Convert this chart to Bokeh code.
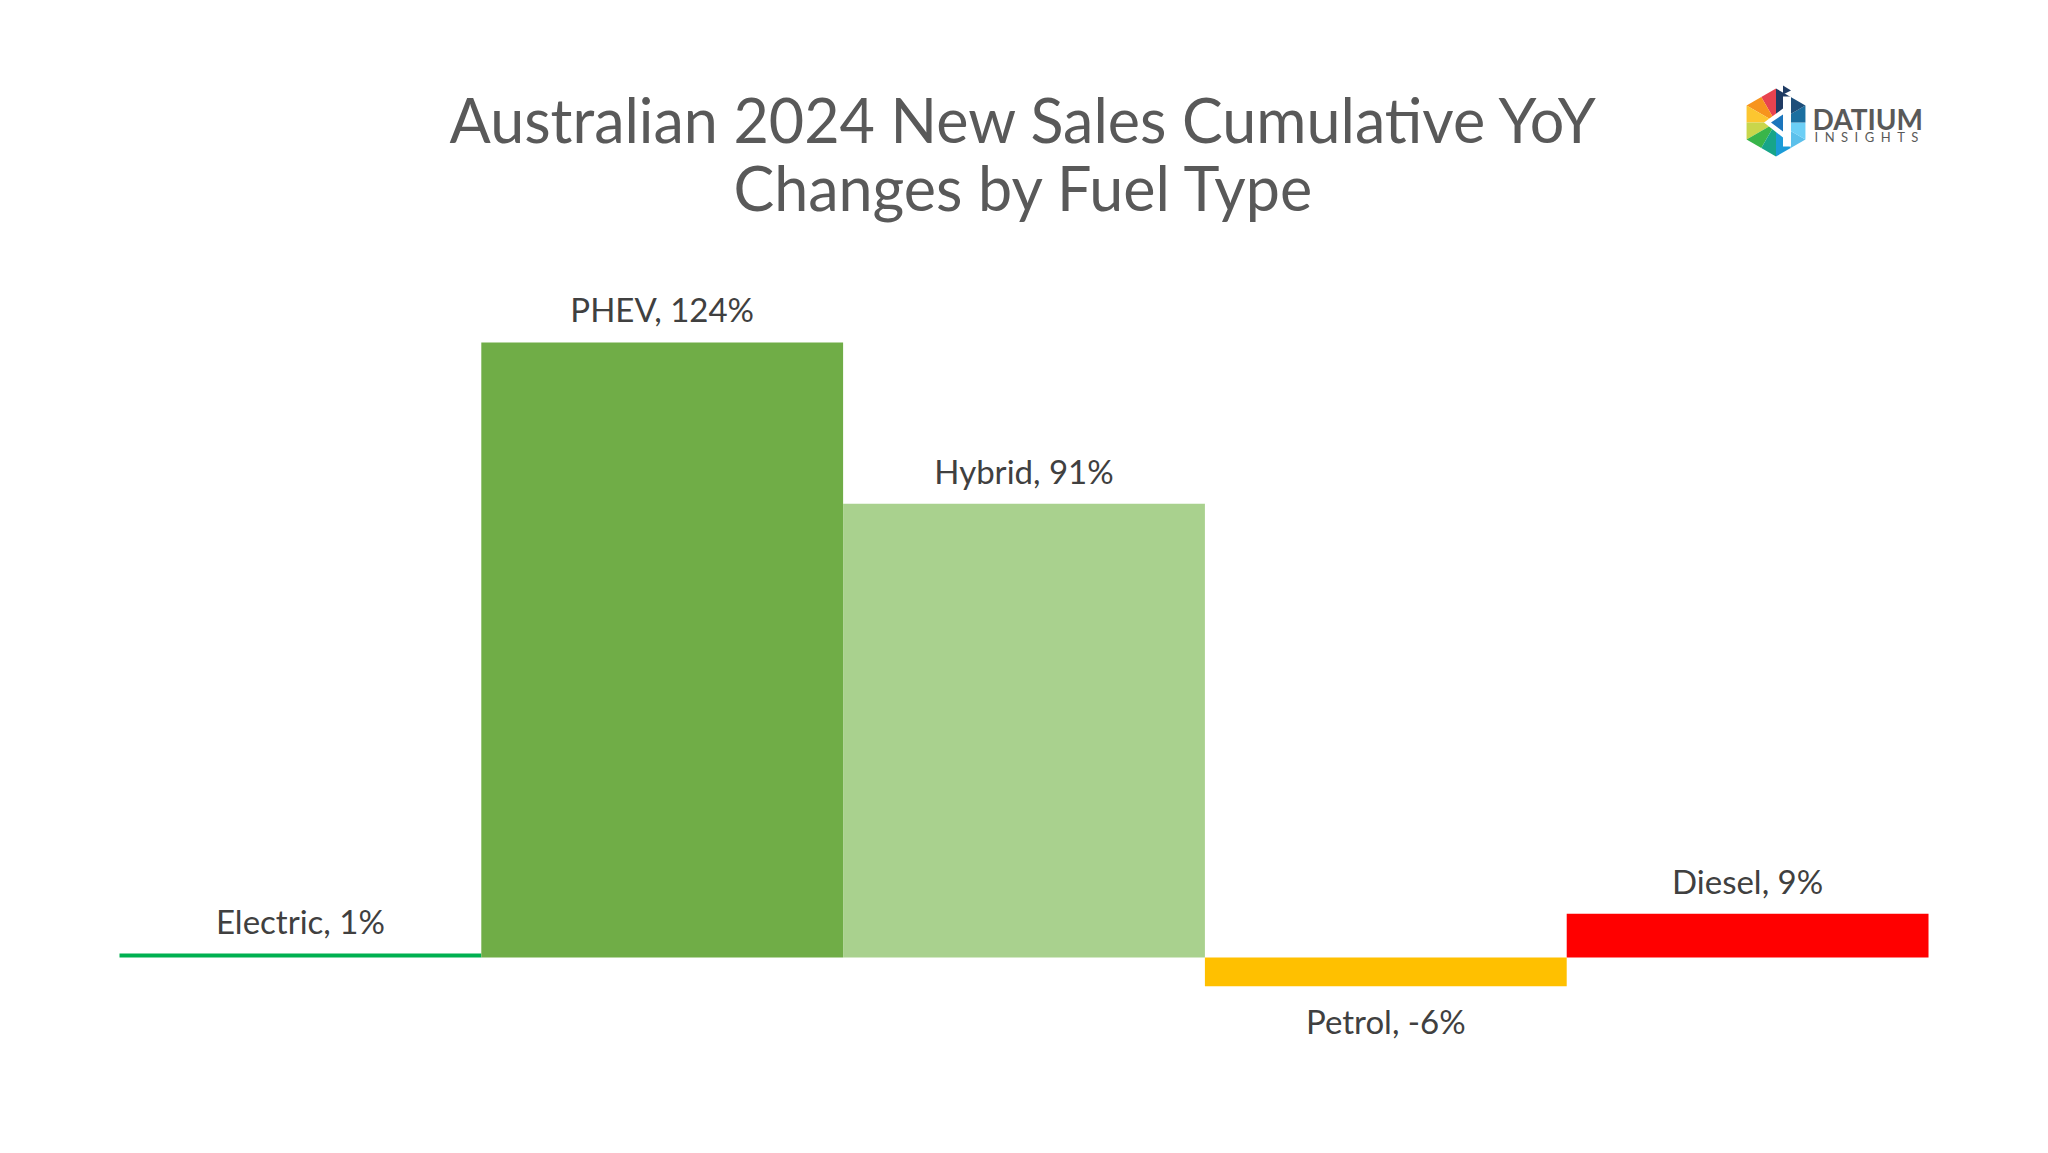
import math
from bokeh.plotting import figure
from bokeh.models import Range1d, Label, PolyAnnotation, ColumnDataSource
from bokeh.embed import file_html
from bokeh.resources import INLINE
from bokeh.core.properties import value

# ---- data ----
categories = ["Electric", "PHEV", "Hybrid", "Petrol", "Diesel"]
changes = [0.8, 124.0, 91.5, -5.8, 8.8]
labels = ["Electric, 1%", "PHEV, 124%", "Hybrid, 91%", "Petrol, -6%", "Diesel, 9%"]
colors = ["#00B050", "#70AD47", "#A9D18E", "#FFC000", "#FF0000"]

title_lines = ["Australian 2024 New Sales Cumulative YoY", "Changes by Fuel Type"]

W, H = 2032, 1137
FONT = "Lato"

p = figure(width=W, height=H, output_backend="svg", toolbar_location=None,
           x_range=Range1d(-0.8289, 4.7874), y_range=Range1d(-36.29, 192.94),
           x_axis_type=None, y_axis_type=None, min_border=0,
           background_fill_color="white", border_fill_color="white")
p.grid.visible = False
p.outline_line_color = None

xs = list(range(len(categories)))
src = ColumnDataSource(dict(
    x=xs, top=changes, color=colors, label=labels,
    yoff=[-33 if v >= 0 else 35 for v in changes],
))
p.vbar(x="x", top="top", bottom=0, width=1.0, fill_color="color",
       line_color=None, source=src)
p.text(x="x", y="top", text="label", y_offset="yoff", source=src,
       text_align="center", text_baseline="middle",
       text_font=value(FONT), text_font_size="33px", text_color="#404040")

# ---- title ----
for i, t in enumerate(title_lines):
    p.add_layout(Label(x=1024, y=1018 - i * 68, x_units="screen", y_units="screen",
                       text=t, text_align="center", text_baseline="middle",
                       text_font=FONT, text_font_size="61px", text_color="#595959"))

# ---- logo (decoration) ----
cx, cy, R = 1775.5, 1015.0, 34.0
pal = ["#E8434F", "#F7941D", "#FCC630", "#C9D64B", "#39B54A", "#17A589",
       "#1B9BD7", "#5BC0EB", "#6CCFF6", "#1B6FA0", "#1D4E7A", "#1F3B63"]
verts = [(cx + R * math.cos(math.radians(90 + 60 * k)),
          cy + R * math.sin(math.radians(90 + 60 * k))) for k in range(7)]
for k in range(6):
    a, b = verts[k], verts[k + 1]
    m = ((a[0] + b[0]) / 2, (a[1] + b[1]) / 2)
    for j, (u, v) in enumerate([(a, m), (m, b)]):
        p.add_layout(PolyAnnotation(xs=[cx, u[0], v[0]], ys=[cy, u[1], v[1]],
                                    xs_units="screen", ys_units="screen",
                                    fill_color=pal[2 * k + j], fill_alpha=1, line_color=None))

def poly(pts, color):
    p.add_layout(PolyAnnotation(xs=[cx + a for a, b in pts], ys=[cy - b for a, b in pts],
                                xs_units="screen", ys_units="screen",
                                fill_color=color, fill_alpha=1, line_color=None))

poly([(7, -26), (15, -26), (15, 24), (7, 24)], "white")
poly([(-12, 0), (7, -14), (7, 15)], "white")
poly([(-5, 0), (7, -8), (7, 9)], "#1B75BC")
poly([(7, -37), (15, -32), (7, -28)], "#1F3B63")

p.add_layout(Label(x=1812, y=H - 118, x_units="screen", y_units="screen",
                   text="DATIUM", text_font=FONT, text_font_style="bold",
                   text_font_size="28px", text_color="#595959", text_baseline="alphabetic"))
p.add_layout(Label(x=1814, y=H - 136, x_units="screen", y_units="screen",
                   text="\u2002".join("INSIGHTS"), text_font=FONT,
                   text_font_size="13px", text_color="#595959", text_baseline="alphabetic"))

open("out.html", "w").write(file_html(p, INLINE))
